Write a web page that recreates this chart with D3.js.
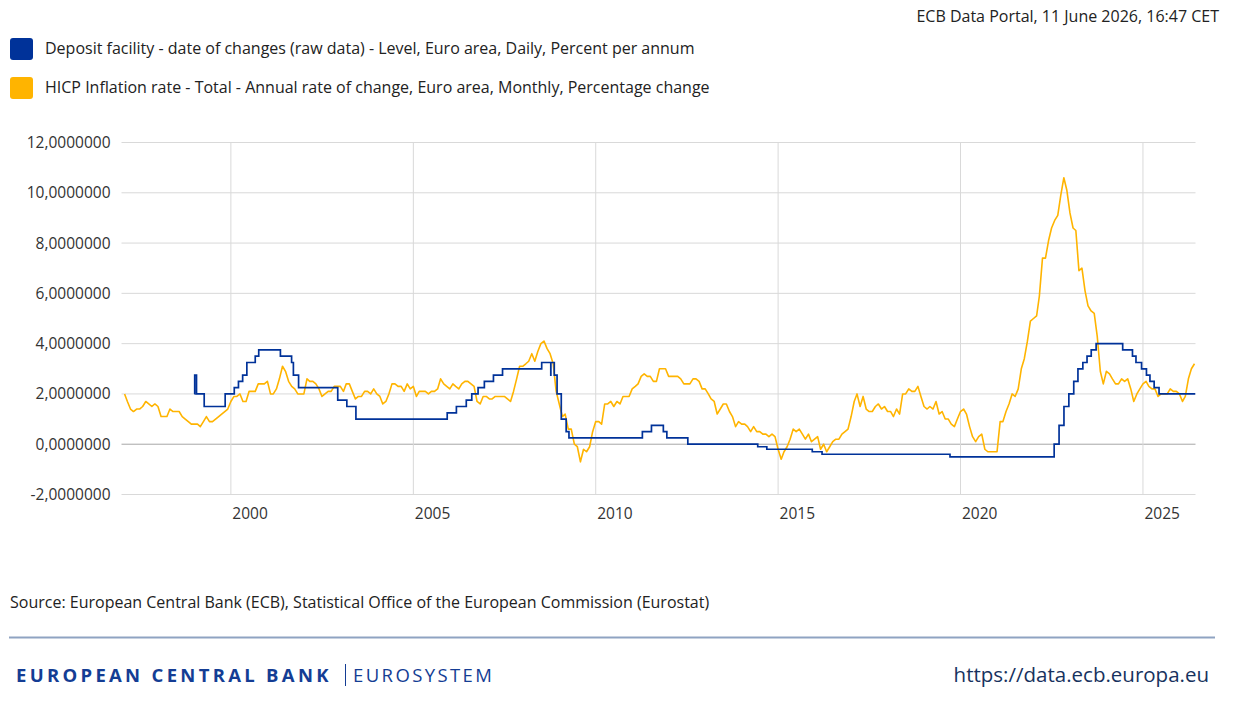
<!DOCTYPE html>
<html>
<head>
<meta charset="utf-8">
<script src="https://cdn.jsdelivr.net/npm/d3@7"></script>
<style>
  body { margin: 0; background: #fff; }
  svg text { font-family: "Open Sans", sans-serif; }
</style>
</head>
<body>
<div id="chart"></div>
<script>
// series labels
const seriesNames = [
    'Deposit facility - date of changes (raw data) - Level, Euro area, Daily, Percent per annum',
    'HICP Inflation rate - Total - Annual rate of change, Euro area, Monthly, Percentage change'
];
const seriesColors = ['#003299', '#ffb400'];

// deposit facility rate, dates of change
const dfrDates = [
    '1999-01-01', '1999-01-04', '1999-01-22', '1999-04-09', '1999-11-05', '2000-02-04',
    '2000-03-17', '2000-04-28', '2000-06-09', '2000-09-01', '2000-10-06', '2001-05-11',
    '2001-08-31', '2001-09-18', '2001-11-09', '2002-12-06', '2003-03-07', '2003-06-06',
    '2005-12-06', '2006-03-08', '2006-06-15', '2006-08-09', '2006-10-11', '2006-12-13',
    '2007-03-14', '2007-06-13', '2008-07-09', '2008-10-08', '2008-10-09', '2008-11-12',
    '2008-12-10', '2009-01-21', '2009-03-11', '2009-04-08', '2011-04-13', '2011-07-13',
    '2011-11-09', '2011-12-14', '2012-07-11', '2014-06-11', '2014-09-10', '2015-12-09',
    '2016-03-16', '2019-09-18', '2022-07-27', '2022-09-14', '2022-11-02', '2022-12-21',
    '2023-02-08', '2023-03-22', '2023-05-10', '2023-06-21', '2023-08-02', '2023-09-20',
    '2024-06-12', '2024-09-18', '2024-10-23', '2024-12-18', '2025-02-05', '2025-03-12',
    '2025-04-23', '2025-06-11', '2026-06-11'
];
const dfrValues = [
    2.00, 2.75, 2.00, 1.50, 2.00, 2.25,
    2.50, 2.75, 3.25, 3.50, 3.75, 3.50,
    3.25, 2.75, 2.25, 1.75, 1.50, 1.00,
    1.25, 1.50, 1.75, 2.00, 2.25, 2.50,
    2.75, 3.00, 3.25, 2.75, 3.25, 2.75,
    2.00, 1.00, 0.50, 0.25, 0.50, 0.75,
    0.50, 0.25, 0.00, -0.10, -0.20, -0.30,
    -0.40, -0.50, 0.00, 0.75, 1.50, 2.00,
    2.50, 3.00, 3.25, 3.50, 3.75, 4.00,
    3.75, 3.50, 3.25, 3.00, 2.75, 2.50,
    2.25, 2.00, 2.00
];

// HICP annual rate, monthly from Jan 1997 to May 2026
const hicpStart = '1997-01';
const hicpValues = [
    // 1997
    2.0, 1.7, 1.4, 1.3, 1.4, 1.4, 1.5, 1.7, 1.6, 1.5, 1.6, 1.5,
    // 1998
    1.1, 1.1, 1.1, 1.4, 1.3, 1.3, 1.3, 1.1, 1.0, 0.9, 0.8, 0.8,
    // 1999
    0.8, 0.7, 0.9, 1.1, 0.9, 0.9, 1.0, 1.1, 1.2, 1.3, 1.4, 1.7,
    // 2000
    1.9, 1.9, 2.0, 1.7, 1.7, 2.1, 2.1, 2.1, 2.4, 2.4, 2.4, 2.5,
    // 2001
    2.0, 2.0, 2.2, 2.6, 3.1, 2.9, 2.5, 2.3, 2.2, 2.0, 2.0, 2.0,
    // 2002
    2.6, 2.5, 2.5, 2.4, 2.2, 1.9, 2.0, 2.1, 2.1, 2.3, 2.3, 2.3,
    // 2003
    2.1, 2.4, 2.4, 2.1, 1.8, 1.9, 1.9, 2.1, 2.1, 2.0, 2.2, 2.0,
    // 2004
    1.9, 1.6, 1.7, 2.0, 2.4, 2.4, 2.3, 2.3, 2.1, 2.4, 2.2, 2.3,
    // 2005
    1.9, 2.1, 2.1, 2.1, 2.0, 2.1, 2.1, 2.2, 2.6, 2.4, 2.3, 2.2,
    // 2006
    2.4, 2.3, 2.2, 2.4, 2.5, 2.5, 2.4, 2.3, 1.7, 1.6, 1.9, 1.9,
    // 2007
    1.8, 1.8, 1.9, 1.9, 1.9, 1.9, 1.8, 1.7, 2.1, 2.6, 3.1, 3.1,
    // 2008
    3.2, 3.3, 3.6, 3.3, 3.7, 4.0, 4.1, 3.8, 3.6, 3.2, 2.1, 1.6,
    // 2009
    1.1, 1.2, 0.6, 0.6, 0.0, -0.1, -0.7, -0.2, -0.3, -0.1, 0.5, 0.9,
    // 2010
    0.9, 0.8, 1.6, 1.6, 1.7, 1.5, 1.7, 1.6, 1.9, 1.9, 1.9, 2.2,
    // 2011
    2.3, 2.4, 2.7, 2.8, 2.7, 2.7, 2.5, 2.5, 3.0, 3.0, 3.0, 2.7,
    // 2012
    2.7, 2.7, 2.7, 2.6, 2.4, 2.4, 2.4, 2.6, 2.6, 2.5, 2.2, 2.2,
    // 2013
    2.0, 1.8, 1.7, 1.2, 1.4, 1.6, 1.6, 1.3, 1.1, 0.7, 0.9, 0.8,
    // 2014
    0.8, 0.7, 0.5, 0.7, 0.5, 0.5, 0.4, 0.4, 0.3, 0.4, 0.3, -0.2,
    // 2015
    -0.6, -0.3, -0.1, 0.2, 0.6, 0.5, 0.6, 0.4, 0.2, 0.4, 0.1, 0.2,
    // 2016
    0.3, -0.2, 0.0, -0.3, -0.1, 0.1, 0.2, 0.2, 0.4, 0.5, 0.6, 1.1,
    // 2017
    1.7, 2.0, 1.5, 1.9, 1.4, 1.3, 1.3, 1.5, 1.6, 1.4, 1.5, 1.3,
    // 2018
    1.3, 1.1, 1.4, 1.2, 2.0, 2.0, 2.2, 2.1, 2.1, 2.3, 1.9, 1.5,
    // 2019
    1.4, 1.5, 1.4, 1.7, 1.2, 1.3, 1.0, 1.0, 0.8, 0.7, 1.0, 1.3,
    // 2020
    1.4, 1.2, 0.7, 0.3, 0.1, 0.3, 0.4, -0.2, -0.3, -0.3, -0.3, -0.3,
    // 2021
    0.9, 0.9, 1.3, 1.6, 2.0, 1.9, 2.2, 3.0, 3.4, 4.1, 4.9, 5.0,
    // 2022
    5.1, 5.9, 7.4, 7.4, 8.1, 8.6, 8.9, 9.1, 9.9, 10.6, 10.1, 9.2,
    // 2023
    8.6, 8.5, 6.9, 7.0, 6.1, 5.5, 5.3, 5.2, 4.3, 2.9, 2.4, 2.9,
    // 2024
    2.8, 2.6, 2.4, 2.4, 2.6, 2.5, 2.6, 2.2, 1.7, 2.0, 2.2, 2.4,
    // 2025
    2.5, 2.3, 2.2, 2.2, 1.9, 2.0, 2.0, 2.0, 2.2, 2.1, 2.1, 2.0,
    // 2026
    1.7, 1.9, 2.6, 3.0, 3.2
];

const yTicks = [-2, 0, 2, 4, 6, 8, 10, 12];
const xTickYears = [2000, 2005, 2010, 2015, 2020, 2025];
const xDomain = ['1997-01-01', '2026-06-11'];

const stampText = 'ECB Data Portal, 11 June 2026, 16:47 CET';
const sourceText = 'Source: European Central Bank (ECB), Statistical Office of the European Commission (Eurostat)';

// page size and plot area
let fullWidth = 1240;
let fullHeight = 728;
let margin = { top: 142.5, right: 44.5, bottom: 233.5, left: 121.5 };
let width = fullWidth - margin.left - margin.right;
let height = fullHeight - margin.top - margin.bottom;

let parseDay = d3.timeParse('%Y-%m-%d');
let parseMonth = d3.timeParse('%Y-%m');

let svg = d3.select('#chart')
    .append('svg')
    .attr('width', fullWidth)
    .attr('height', fullHeight);

// time stamp top right
svg.append('text')
    .text(stampText)
    .attr('x', 1219)
    .attr('y', 22)
    .attr('text-anchor', 'end')
    .style('font-size', '16px')
    .style('fill', '#222');

// legend
let legend = svg.selectAll('.legend-item')
    .data(seriesNames)
    .enter()
    .append('g')
    .attr('class', 'legend-item')
    .attr('transform', (d, i) => `translate(10, ${38 + i * 39})`);

legend.append('rect')
    .attr('width', 23)
    .attr('height', 22)
    .attr('rx', 3)
    .style('fill', (d, i) => seriesColors[i]);

legend.append('text')
    .text(d => d)
    .attr('x', 35)
    .attr('y', 16)
    .style('font-size', '16px')
    .style('fill', '#222');

let g = svg.append('g')
    .attr('transform', `translate(${margin.left}, ${margin.top})`);

// scales
let x = d3.scaleTime()
    .domain(xDomain.map(parseDay))
    .range([0, width]);

let y = d3.scaleLinear()
    .domain([d3.min(yTicks), d3.max(yTicks)])
    .range([height, 0]);

// grid
g.selectAll('.hgrid')
    .data(yTicks)
    .enter()
    .append('line')
    .attr('x1', 0)
    .attr('x2', width)
    .attr('y1', d => y(d))
    .attr('y2', d => y(d))
    .style('stroke', d => d === 0 ? '#a6a6a6' : '#d9d9d9')
    .style('stroke-width', 1);

let xTickDates = xTickYears.map(yr => new Date(yr, 0, 1));

g.selectAll('.vgrid')
    .data(xTickDates)
    .enter()
    .append('line')
    .attr('x1', d => x(d))
    .attr('x2', d => x(d))
    .attr('y1', 0)
    .attr('y2', height)
    .style('stroke', '#d9d9d9')
    .style('stroke-width', 1);

// axes
let commaFmt = v => d3.format('.7f')(v).replace('.', ',').replace('−', '-');

let yAxis = g.append('g')
    .call(d3.axisLeft(y).tickValues(yTicks).tickFormat(commaFmt).tickSize(0).tickPadding(11));
yAxis.select('.domain').remove();
yAxis.selectAll('text')
    .style('font-family', '"Open Sans", sans-serif')
    .style('font-size', '15.5px')
    .style('fill', '#333');

let xAxis = g.append('g')
    .attr('transform', `translate(0, ${height})`)
    .call(d3.axisBottom(x).tickValues(xTickDates).tickFormat(d3.timeFormat('%Y')).tickSize(0).tickPadding(13));
xAxis.select('.domain').remove();
xAxis.selectAll('text')
    .attr('text-anchor', 'start')
    .attr('x', 1)
    .style('font-family', '"Open Sans", sans-serif')
    .style('font-size', '15.5px')
    .style('fill', '#333');

// series data
let dfr = dfrDates.map((d, i) => ({ date: parseDay(d), value: dfrValues[i] }));

let hicpFirst = parseMonth(hicpStart);
// monthly observations are drawn at the end of their month
let hicp = hicpValues.map((v, i) => ({ date: d3.timeMonth.offset(hicpFirst, i + 1), value: v }));

g.append('clipPath').attr('id', 'plot-clip')
    .append('rect')
    .attr('width', width)
    .attr('height', height);

let stepLine = d3.line()
    .x(d => x(d.date))
    .y(d => y(d.value))
    .curve(d3.curveStepAfter);

let plainLine = d3.line()
    .x(d => x(d.date))
    .y(d => y(d.value));

g.append('path')
    .datum(hicp)
    .attr('clip-path', 'url(#plot-clip)')
    .attr('d', plainLine)
    .style('fill', 'none')
    .style('stroke', seriesColors[1])
    .style('stroke-width', 1.6)
    .style('stroke-linejoin', 'round');

g.append('path')
    .datum(dfr)
    .attr('clip-path', 'url(#plot-clip)')
    .attr('d', stepLine)
    .style('fill', 'none')
    .style('stroke', seriesColors[0])
    .style('stroke-width', 1.7);

// source line
svg.append('text')
    .text(sourceText)
    .attr('x', 10)
    .attr('y', 608)
    .style('font-size', '16px')
    .style('fill', '#222');

svg.append('line')
    .attr('x1', 9)
    .attr('x2', 1215)
    .attr('y1', 637.5)
    .attr('y2', 637.5)
    .style('stroke', '#8fa3c2')
    .style('stroke-width', 2);

// footer
svg.append('text')
    .text('EUROPEAN CENTRAL BANK')
    .attr('x', 16)
    .attr('y', 682)
    .style('font-size', '18.5px')
    .style('font-weight', 'bold')
    .style('letter-spacing', '3.3px')
    .style('fill', '#143d94');

svg.append('line')
    .attr('x1', 345.5)
    .attr('x2', 345.5)
    .attr('y1', 664)
    .attr('y2', 686)
    .style('stroke', '#143d94')
    .style('stroke-width', 1);

svg.append('text')
    .text('EUROSYSTEM')
    .attr('x', 353)
    .attr('y', 682)
    .style('font-size', '18.5px')
    .style('letter-spacing', '2.4px')
    .style('fill', '#143d94');

svg.append('text')
    .text('https://data.ecb.europa.eu')
    .attr('x', 1209)
    .attr('y', 682)
    .attr('text-anchor', 'end')
    .style('font-size', '20.5px')
    .style('fill', '#17325e');
</script>
</body>
</html>
